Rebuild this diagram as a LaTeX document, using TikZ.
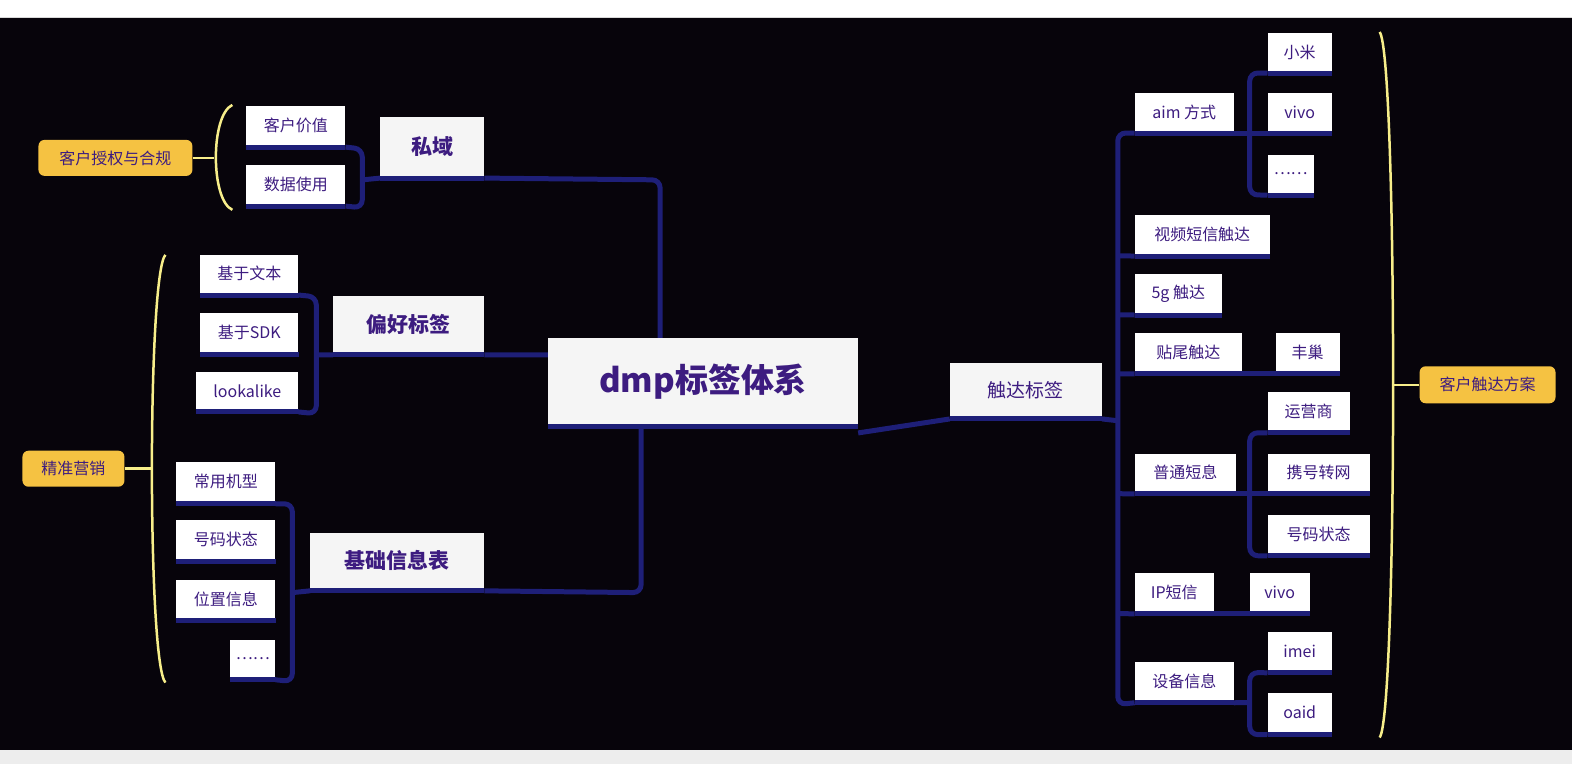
\documentclass[tikz,border=0pt]{standalone}
\usepackage{fontspec}
\setmainfont{Noto Sans CJK SC}
\usetikzlibrary{backgrounds}
\begin{document}
\begin{tikzpicture}[x=1pt,y=-1pt,
  leaf/.style={fill=white,inner sep=0pt,text=txt,font=\fontsize{16}{18}\selectfont},
  mainb/.style={fill=boxg,inner sep=0pt,text=txt,font=\fontsize{21}{24}\selectfont\bfseries},
  conn/.style={draw=navy,line width=5pt,rounded corners=8pt},
  tag/.style={fill=ybox,rounded corners=6pt,inner sep=0pt,text=txt,font=\fontsize{16}{18}\selectfont},
  brace/.style={draw=ylin,line width=2.5pt}]
\definecolor{navy}{HTML}{1E1F78}
\definecolor{txt}{HTML}{3D1C80}
\definecolor{boxg}{HTML}{F5F5F5}
\definecolor{ybox}{HTML}{F5C242}
\definecolor{ylin}{HTML}{F7EE8A}
\definecolor{bg}{HTML}{07040B}
\newcommand\bx[7]{%
  \node[#7,minimum width={(#4-#2)*1pt},minimum height={(#5-#3)*1pt}] (#1) at ({(#2+#4)/2},{(#3+#5)/2}) {#6};
  \coordinate (#1-l) at ([yshift=-2pt]#1.south west);
  \coordinate (#1-r) at ([yshift=-2pt]#1.south east);
  \draw[navy,line width=5pt] (#1-l) -- (#1-r);}
% boxes
\bx{n1}{246}{106}{345}{145}{客户价值}{leaf}
\bx{n2}{246}{165}{345}{204}{数据使用}{leaf}
\bx{sy}{380}{117}{484}{176}{私域}{mainb}
\bx{n3}{200}{255}{298}{293}{基于文本}{leaf}
\bx{n4}{200}{313}{298}{353}{基于SDK}{leaf}
\bx{n5}{196}{372}{298}{410}{lookalike}{leaf}
\bx{ph}{333}{296}{484}{353}{偏好标签}{mainb}
\bx{n6}{176}{462}{275}{502}{常用机型}{leaf}
\bx{n7}{176}{520}{275}{560}{号码状态}{leaf}
\bx{n8}{176}{580}{275}{619}{位置信息}{leaf}
\bx{n9}{230}{640}{275}{678}{……}{leaf}
\bx{jc}{310}{533}{484}{589}{基础信息表}{mainb}
\bx{dmp}{548}{338}{858}{425}{dmp标签体系}{mainb,font=\fontsize{33}{38}\selectfont\bfseries}
\bx{cd}{950}{363}{1102}{417}{触达标签}{mainb,font=\fontsize{19}{22}\selectfont}
\bx{aim}{1135}{93}{1234}{131}{aim 方式}{leaf}
\bx{xm}{1268}{33}{1332}{71}{小米}{leaf}
\bx{v1}{1268}{93}{1332}{131}{vivo}{leaf}
\bx{dd}{1268}{155}{1314}{193}{……}{leaf}
\bx{sp}{1135}{215}{1270}{254}{视频短信触达}{leaf}
\bx{g5}{1135}{274}{1222}{313}{5g 触达}{leaf}
\bx{tw}{1135}{333}{1242}{372}{贴尾触达}{leaf}
\bx{fc}{1276}{333}{1340}{372}{丰巢}{leaf}
\bx{pt}{1135}{454}{1236}{492}{普通短息}{leaf}
\bx{yy}{1268}{392}{1350}{431}{运营商}{leaf}
\bx{xh}{1268}{454}{1370}{492}{携号转网}{leaf}
\bx{hm}{1268}{515}{1370}{554}{号码状态}{leaf}
\bx{ip}{1135}{573}{1214}{612}{IP短信}{leaf}
\bx{v2}{1250}{573}{1310}{612}{vivo}{leaf}
\bx{sb}{1135}{662}{1234}{701}{设备信息}{leaf}
\bx{im}{1268}{632}{1332}{671}{imei}{leaf}
\bx{oa}{1268}{693}{1332}{733}{oaid}{leaf}
% tags
\node[tag,minimum width=154pt,minimum height=36pt] (t1) at (115,158) {客户授权与合规};
\node[tag,minimum width=102pt,minimum height=36pt] (t2) at (73,469) {精准营销};
\node[tag,minimum width=136pt,minimum height=37pt] (t3) at (1488,385) {客户触达方案};
\begin{pgfonlayer}{background}
\fill[white] (0,0) rectangle (1572,764);
\fill[bg] (0,18) rectangle (1572,750);
\fill[black!7] (0,750) rectangle (1572,764);
\draw[black!15,line width=1pt] (0,18) -- (1572,18);
\draw[brace] (t1.east) -- (214,158);
\draw[brace] (232,105) .. controls (210,115) and (210,200) .. (232,210);
\draw[brace] (t2.east) -- (151,469);
\draw[brace] (165,255) .. controls (147,275) and (147,663) .. (165,683);
\draw[brace] (t3.west) -- (1393,385);
\draw[brace] (1380,32) .. controls (1398,55) and (1398,715) .. (1380,738);
\coordinate (a1) at (362,149); \coordinate (a2) at (362,208); \coordinate (a3) at (362,180);
\coordinate (b1) at (316,297); \coordinate (b2) at (316,414); \coordinate (b3) at (316,355);
\coordinate (c1) at (292,504); \coordinate (c2) at (292,682); \coordinate (c3) at (292,593);
\coordinate (p1) at (660,180); \coordinate (p2) at (660,340);
\coordinate (q1) at (641,593); \coordinate (q2) at (641,426);
\coordinate (r3) at (548,355);
\coordinate (tr1) at (1118,133); \coordinate (tr2) at (1118,705);
\draw[conn] (n1-r) -- (a1) -- (a2) -- (n2-r);
\draw[conn] (a3) -- (sy-l);
\draw[conn] (sy-r) -- (p1) -- (p2);
\draw[conn] (n3-r) -- (b1) -- (b2) -- (n5-r);
\draw[conn] (b3) -- (ph-l); \draw[conn] (ph-r) -- (r3);
\draw[conn] (n6-r) -- (c1) -- (c2) -- (n9-r);
\draw[conn] (c3) -- (jc-l);
\draw[conn] (jc-r) -- (q1) -- (q2);
\draw[conn] ([yshift=-6pt]dmp-r) -- (cd-l);
\draw[conn] (cd-r) -- (1118,421);
\draw[conn] (aim-l) -- (tr1) -- (tr2) -- (sb-l);
\foreach \n/\yy in {sp/256,g5/315,tw/374,pt/494,ip/614}{\draw[conn] (1118,\yy) -- (\n-l);}
\draw[conn] (tw-r) -- (fc-l);
\draw[conn] (ip-r) -- (v2-l);
\draw[conn] (xm-l) -- (1250,73) -- (1250,195) -- (dd-l);
\draw[conn] (aim-r) -- (v1-l);
\draw[conn] (yy-l) -- (1250,433) -- (1250,556) -- (hm-l);
\draw[conn] (pt-r) -- (xh-l);
\draw[conn] (im-l) -- (1250,673) -- (1250,735) -- (oa-l);
\draw[conn] (sb-r) -- (1250,703);
\end{pgfonlayer}
\end{tikzpicture}
\end{document}
